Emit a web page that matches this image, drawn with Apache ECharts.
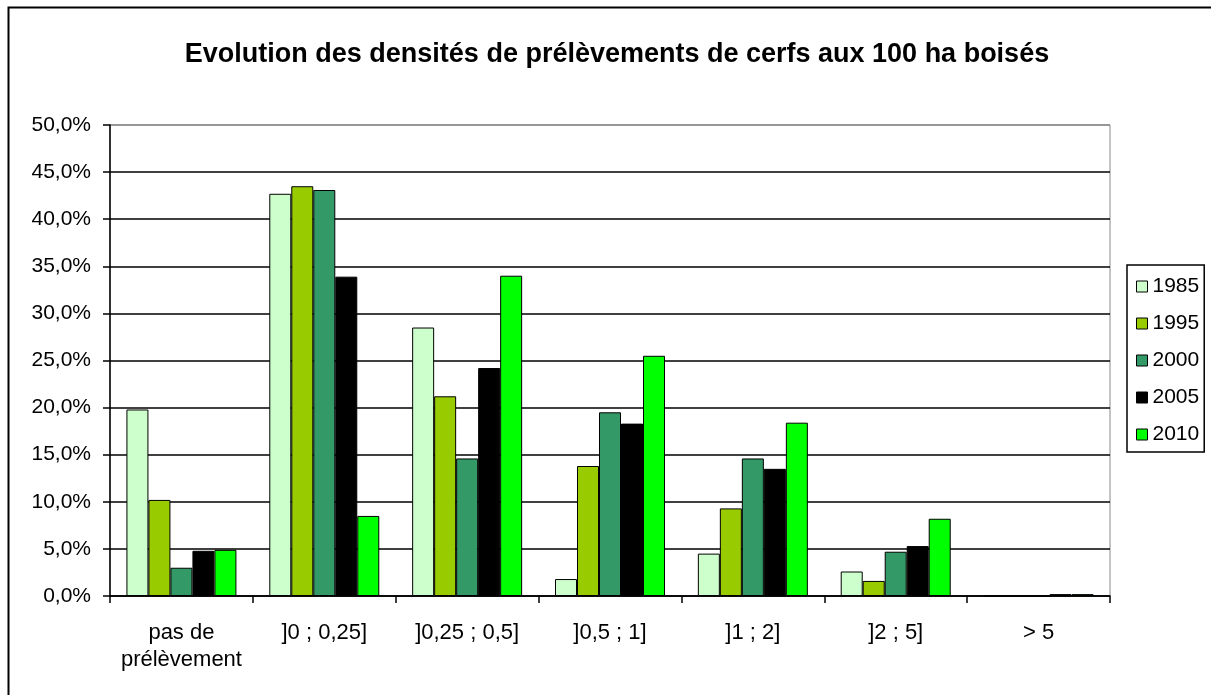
<!DOCTYPE html>
<html>
<head>
<meta charset="utf-8">
<script src="https://cdn.jsdelivr.net/npm/echarts@6/dist/echarts.min.js"></script>
<style>
  html, body { margin: 0; padding: 0; background: #fff; }
  #chart { width: 1211px; height: 695px; }
</style>
</head>
<body>
<div id="chart"></div>
<script>
  // categories (density classes per 100 ha wooded)
  const categories = ['pas de\nprélèvement', ']0 ; 0,25]', ']0,25 ; 0,5]', ']0,5 ; 1]', ']1 ; 2]', ']2 ; 5]', '> 5'];
  const years = ['1985', '1995', '2000', '2005', '2010'];
  const colors = ['#CCFFCC', '#99CC00', '#339966', '#000000', '#00FF00'];

  // values in %
  const v1985 = [19.8, 42.7, 28.5, 1.8, 4.5, 2.6, 0];
  const v1995 = [10.2, 43.5, 21.2, 13.8, 9.3, 1.6, 0];
  const v2000 = [3.0, 43.1, 14.6, 19.5, 14.6, 4.7, 0];
  const v2005 = [4.8, 33.9, 24.2, 18.3, 13.5, 5.3, 0.2];
  const v2010 = [4.9, 8.5, 34.0, 25.5, 18.4, 8.2, 0.2];
  const values = [v1985, v1995, v2000, v2005, v2010];

  const font = '"Liberation Sans", Arial, sans-serif';

  // grid lines black, top one grey like the plot frame
  const splitColors = [];
  for (let i = 0; i < 10; i++) splitColors.push('#000');
  splitColors.push('#888');

  const chart = echarts.init(document.getElementById('chart'), null, { renderer: 'canvas' });

  const option = {
    animation: false,
    backgroundColor: '#fff',
    textStyle: { fontFamily: font, color: '#000' },
    title: {
      text: 'Evolution des densités de prélèvements de cerfs aux 100 ha boisés',
      left: 612,
      textAlign: 'center',
      top: 36,
      textStyle: { fontFamily: font, fontSize: 27, fontWeight: 'bold', color: '#000' }
    },
    graphic: [{
      type: 'rect',
      shape: { x: 8.5, y: 7.5, width: 1215, height: 700 },
      style: { fill: null, stroke: '#000', lineWidth: 2 },
      silent: true,
      z: 100
    }],
    legend: {
      orient: 'vertical',
      left: 1127,
      top: 265,
      data: years,
      icon: 'rect',
      itemWidth: 11,
      itemHeight: 11,
      itemGap: 16,
      itemTextGap: 8,
      padding: [11, 5, 7, 9],
      borderColor: '#000',
      borderWidth: 1.5,
      borderRadius: 0,
      itemStyle: { borderColor: '#000', borderWidth: 1 },
      textStyle: { fontFamily: font, fontSize: 21, color: '#000', lineHeight: 21 }
    },
    grid: {
      left: 110,
      right: 101,
      top: 125,
      bottom: 99,
      show: true,
      borderColor: '#888',
      borderWidth: 1,
      containLabel: false
    },
    xAxis: {
      type: 'category',
      data: categories,
      axisLine: { show: true, lineStyle: { color: '#000', width: 1.5 } },
      axisTick: { show: true, alignWithLabel: false, length: 7, lineStyle: { color: '#000', width: 1.5 } },
      axisLabel: {
        interval: 0,
        margin: 23,
        fontFamily: font,
        fontSize: 22,
        lineHeight: 27,
        color: '#000'
      }
    },
    yAxis: {
      type: 'value',
      min: 0,
      max: 50,
      interval: 5,
      axisLine: { show: true, lineStyle: { color: '#000', width: 1.5 } },
      axisTick: { show: true, inside: false, length: 7, lineStyle: { color: '#000', width: 1.5 } },
      axisLabel: {
        margin: 19,
        fontFamily: font,
        fontSize: 21,
        color: '#000',
        formatter: function (v) { return v.toFixed(1).replace('.', ',') + '%'; }
      },
      splitLine: { show: true, lineStyle: { color: splitColors, width: 1.5 } }
    },
    series: years.map(function (y, i) {
      return {
        name: y,
        type: 'bar',
        data: values[i],
        barGap: '0%',
        barCategoryGap: '23%',
        itemStyle: { color: colors[i], borderColor: '#000', borderWidth: 1 }
      };
    })
  };

  chart.setOption(option);
</script>
</body>
</html>
